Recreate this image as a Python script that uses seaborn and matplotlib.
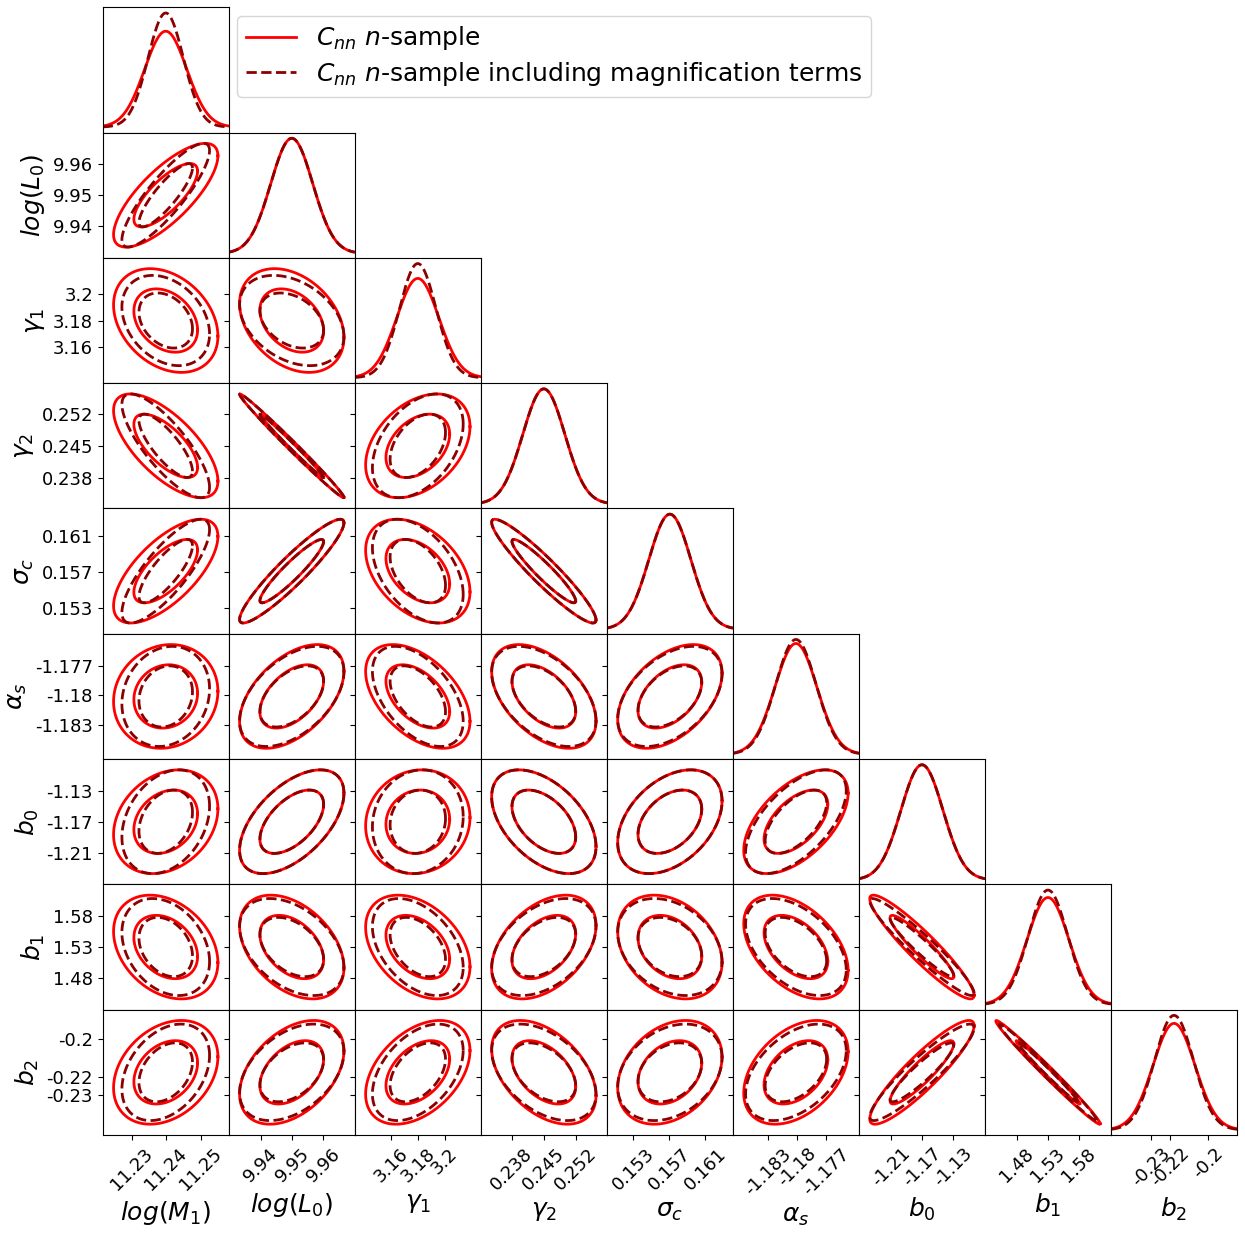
import numpy as np
import matplotlib
matplotlib.use("Agg")
import matplotlib.pyplot as plt
import seaborn as sns

# parameters of the Fisher forecast
labels = [r'$log(M_1)$', r'$log(L_0)$', r'$\gamma_1$', r'$\gamma_2$', r'$\sigma_c$',
          r'$\alpha_s$', r'$b_0$', r'$b_1$', r'$b_2$']
means = [11.2399, 9.9499, 3.1800, 0.2450, 0.15706, -1.1801, -1.1700, 1.5303, -0.2177]
sigma_solid = [0.0061, 0.0067, 0.0157, 0.0046, 0.00233, 0.00215, 0.0270, 0.0340, 0.0111]
# dashed (with magnification) marginal errors relative to the solid ones
sigma_ratio_dashed = [0.84, 1.0, 0.87, 1.0, 1.0, 0.965, 1.0, 0.935, 0.93]

tick_values = [[11.23, 11.24, 11.25], [9.94, 9.95, 9.96], [3.16, 3.18, 3.20],
               [0.238, 0.245, 0.252], [0.153, 0.157, 0.161], [-1.183, -1.18, -1.177],
               [-1.21, -1.17, -1.13], [1.48, 1.53, 1.58], [-0.23, -0.22, -0.20]]
tick_labels = [['11.23', '11.24', '11.25'], ['9.94', '9.95', '9.96'], ['3.16', '3.18', '3.2'],
               ['0.238', '0.245', '0.252'], ['0.153', '0.157', '0.161'],
               ['-1.183', '-1.18', '-1.177'], ['-1.21', '-1.17', '-1.13'],
               ['1.48', '1.53', '1.58'], ['-0.23', '-0.22', '-0.2']]

# correlation coefficients, lower triangle (row j, columns i < j)
rho_solid = [[],
             [0.76],
             [-0.30, -0.33],
             [-0.68, -0.993, 0.37],
             [0.67, 0.93, -0.40, -0.94],
             [0.10, 0.49, -0.48, -0.48, 0.45],
             [0.25, 0.55, 0.08, -0.48, 0.40, 0.55],
             [-0.30, -0.40, -0.38, 0.42, -0.30, -0.45, -0.93],
             [0.30, 0.42, 0.42, -0.45, 0.30, 0.40, 0.90, -0.99]]
rho_dashed = [[],
              [0.86],
              [-0.30, -0.35],
              [-0.80, -0.993, 0.42],
              [0.80, 0.93, -0.45, -0.94],
              [0.15, 0.49, -0.50, -0.48, 0.45],
              [0.30, 0.55, 0.10, -0.48, 0.40, 0.60],
              [-0.30, -0.42, -0.42, 0.42, -0.30, -0.47, -0.95],
              [0.35, 0.42, 0.45, -0.45, 0.30, 0.45, 0.92, -0.99]]

legend_labels = [r'$C_{nn}$ $n$-sample', r'$C_{nn}$ $n$-sample including magnification terms']

levels = [2.30, 6.17]  # delta chi^2 for 1 and 2 sigma in 2D


def ellipse(mx, my, sx, sy, rho, dchi2):
    t = np.linspace(0, 2 * np.pi, 300)
    cov = np.array([[sx ** 2, rho * sx * sy], [rho * sx * sy, sy ** 2]])
    L = np.linalg.cholesky(cov)
    pts = L @ np.vstack([np.cos(t), np.sin(t)]) * np.sqrt(dchi2)
    return mx + pts[0], my + pts[1]


def gauss(x, m, s):
    return np.exp(-0.5 * ((x - m) / s) ** 2) / (s * np.sqrt(2 * np.pi))


n = len(labels)
sigma_dashed = [s * r for s, r in zip(sigma_solid, sigma_ratio_dashed)]
styles = [dict(color='red', linestyle='-'), dict(color='#8B0000', linestyle='--')]

fig, axes = plt.subplots(n, n, figsize=(12.45, 12.33), dpi=100)
fig.subplots_adjust(left=0.0825, right=0.9936, top=0.9941, bottom=0.0795, wspace=0, hspace=0)

for j in range(n):
    for i in range(n):
        ax = axes[j, i]
        if i > j:
            ax.set_visible(False)
            continue
        xlo = means[i] - 3 * sigma_solid[i]
        xhi = means[i] + 3 * sigma_solid[i]
        if i == j:
            x = np.linspace(xlo, xhi, 400)
            for sig, st in zip([sigma_solid[i], sigma_dashed[i]], styles):
                sns.lineplot(x=x, y=gauss(x, means[i], sig), ax=ax, lw=2, legend=False,
                             sort=False, estimator=None, **st)
            ax.set_xlim(xlo, xhi)
            ax.set_yticks([])
        else:
            ylo = means[j] - 3 * sigma_solid[j]
            yhi = means[j] + 3 * sigma_solid[j]
            cases = [(sigma_solid, rho_solid), (sigma_dashed, rho_dashed)]
            for (sig, rho), st in zip(cases, styles):
                for lev in levels:
                    ex, ey = ellipse(means[i], means[j], sig[i], sig[j], rho[j][i], lev)
                    sns.lineplot(x=ex, y=ey, ax=ax, lw=2, legend=False,
                                 sort=False, estimator=None, **st)
            ax.set_xlim(xlo, xhi)
            ax.set_ylim(ylo, yhi)
            ax.set_yticks(tick_values[j])
            if i == 0:
                ax.set_yticklabels(tick_labels[j], fontsize=13)
                ax.set_ylabel(labels[j], fontsize=18)
            else:
                ax.set_yticklabels([])
                ax.set_ylabel('')
        if j == n - 1:
            ax.set_xticks(tick_values[i])
            ax.set_xticklabels(tick_labels[i], fontsize=13, rotation=45)
            ax.set_xlabel(labels[i], fontsize=18)
        else:
            ax.set_xticks([])
            ax.set_xlabel('')
        if i == j and j != n - 1:
            ax.set_xticks([])
        if i == j:
            ax.set_ylabel('')

handles = axes[0, 0].get_lines()[:2]
fig.legend(handles=handles, labels=legend_labels, loc='upper left',
           bbox_to_anchor=(237 / 1245, 1 - 15.5 / 1233), fontsize=18, borderaxespad=0,
           labelspacing=0.3, borderpad=0.35)

fig.savefig('out.png', dpi=100)
